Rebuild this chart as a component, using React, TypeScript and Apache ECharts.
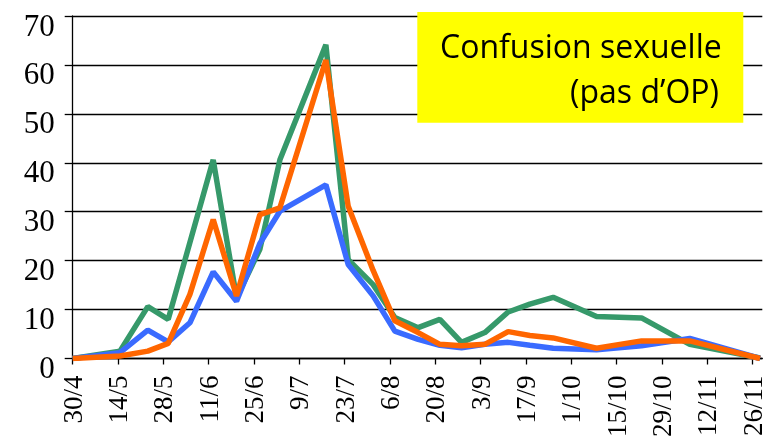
import React, { useEffect, useRef } from "react";
import * as echarts from "echarts";

// Days after 30/4 for each sampling date
const sampleDays = [0, 14.6, 23.2, 29.5, 36.2, 43.4, 50.6, 57.8, 64, 78.2, 85.1, 92.8, 99.5, 106.7, 113.4, 120.1, 127.3, 134.5, 141.2, 148.4, 161.8, 175.7, 190.6, 212.3];
const greenValues = [0, 1.5, 10.6, 8.0, null, 40.6, 12.4, 22.3, 40.6, 64.1, 20.2, 15.1, 8.4, 6.3, 8.0, 3.3, 5.3, 9.5, 11.1, 12.5, 8.6, 8.3, 2.9, 0.1];
const orangeValues = [0, 0.5, 1.5, 3.1, 13.1, 28.4, 12.8, 29.4, 30.8, 61.0, 31.1, 18, 7.7, 5.3, 2.9, 2.6, 2.9, 5.5, 4.7, 4.2, 2.1, 3.6, 3.6, 0];
const blueValues = [0, 1.2, 5.8, 3.4, 7.3, 17.7, 11.7, 23.5, 30.1, 35.5, 19.2, 12.8, 5.6, 3.9, 2.7, 2.2, 2.9, 3.3, 2.7, 2.1, 1.8, 2.6, 4.1, 0];

const tickLabels = ["30/4", "14/5", "28/5", "11/6", "25/6", "9/7", "23/7", "6/8", "20/8", "3/9", "17/9", "1/10", "15/10", "29/10", "12/11", "26/11"];
const tickDays = tickLabels.map((_, i) => i * 14);

const titleLines = ["Confusion sexuelle", "(pas d\u2019OP)"];

export default function App() {
  const ref = useRef<HTMLDivElement>(null);
  useEffect(() => {
    if (!ref.current) return;
    const chart = echarts.init(ref.current, null, { renderer: "svg" });
    const pairs = (vals: (number | null)[]) => sampleDays.map((d, i) => [d, vals[i]]);
    const serif = "Liberation Serif";
    chart.setOption({
      animation: false,
      grid: { left: 72.7, right: 6.7, top: 16, bottom: 80.7, containLabel: false },
      xAxis: {
        type: "value",
        min: 0,
        max: 213,
        interval: 14,
        splitLine: { show: false },
        axisLine: { lineStyle: { color: "#000", width: 1.3 } },
        axisTick: { show: true, length: 6, customValues: tickDays, lineStyle: { color: "#000", width: 1.3 } },
        axisLabel: {
          customValues: tickDays,
          rotate: 90,
          margin: 17,
          color: "#000",
          fontFamily: serif,
          fontSize: 27,
          formatter: (v: number) => tickLabels[Math.round(v / 14)] ?? "",
        },
      },
      yAxis: {
        type: "value",
        min: 0,
        max: 70,
        interval: 10,
        axisLine: { show: true, lineStyle: { color: "#000", width: 1.3 } },
        axisTick: { show: true, length: 8, lineStyle: { color: "#000", width: 1.3 } },
        splitLine: { lineStyle: { color: "#000", width: 1.3 } },
        axisLabel: { color: "#000", fontFamily: serif, fontSize: 31, margin: 18, verticalAlign: "top", lineHeight: 18 },
      },
      series: [
        { type: "line", data: pairs(greenValues), connectNulls: true, symbol: "none", lineStyle: { color: "#36996a", width: 5.5 }, z: 2 },
        { type: "line", data: pairs(blueValues), symbol: "none", lineStyle: { color: "#3a6bff", width: 5.5 }, z: 3 },
        { type: "line", data: pairs(orangeValues), symbol: "none", lineStyle: { color: "#ff6600", width: 5.5 }, z: 4 },
      ],
      graphic: [
        { type: "rect", shape: { x: 417.3, y: 12, width: 326, height: 110.7 }, style: { fill: "#ffff00" }, z: 10 },
        { type: "text", x: 721.7, y: 45, style: { text: titleLines[0], fill: "#000", font: "32px 'Open Sans'", align: "right", verticalAlign: "middle" }, z: 11 },
        { type: "text", x: 719, y: 90, style: { text: titleLines[1], fill: "#000", font: "32px 'Open Sans'", align: "right", verticalAlign: "middle" }, z: 11 },
      ],
    });
    return () => chart.dispose();
  }, []);
  return <div ref={ref} style={{ position: "fixed", left: 0, top: 0, width: 769, height: 440 }} />;
}
